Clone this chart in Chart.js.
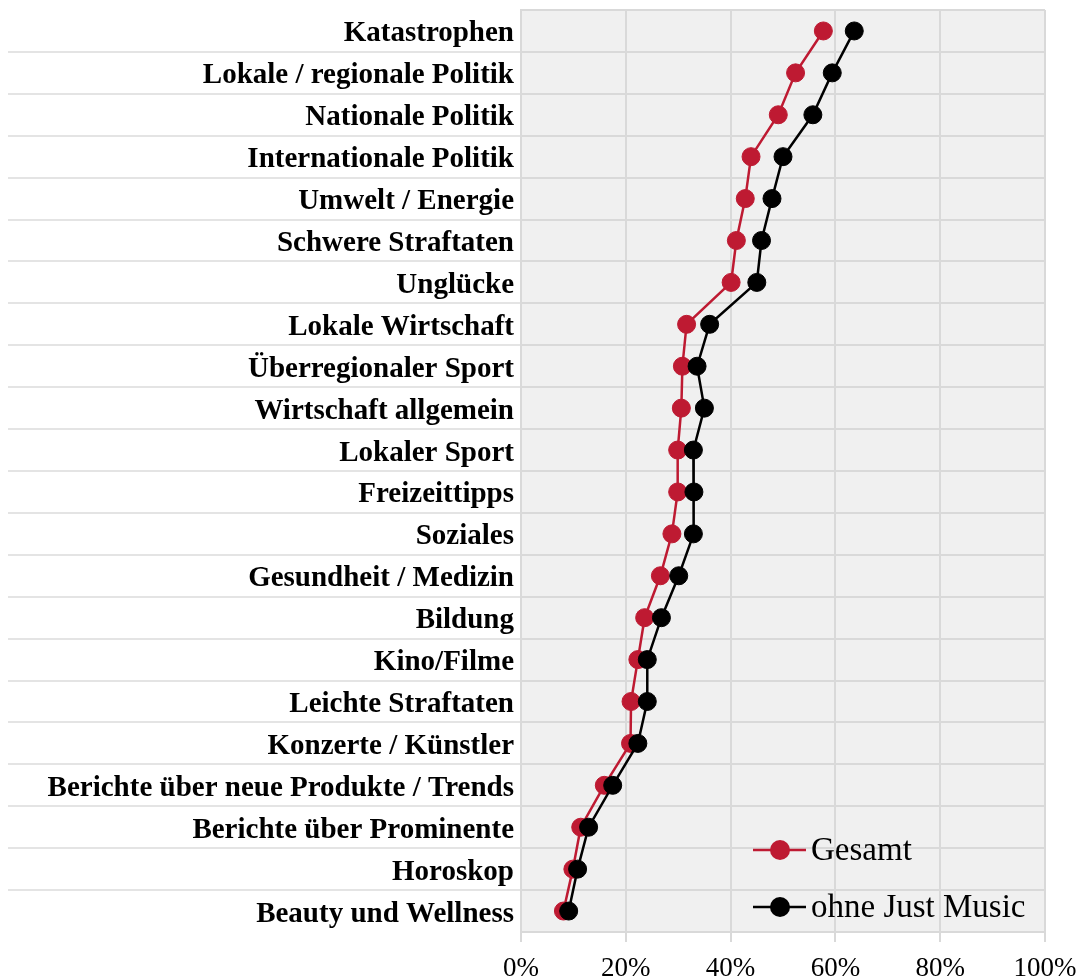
<!DOCTYPE html>
<html>
<head>
<meta charset="utf-8">
<script src="https://cdn.jsdelivr.net/npm/chart.js@4.4.1/dist/chart.umd.min.js"></script>
<style>
  html, body { margin: 0; padding: 0; background: #ffffff; }
  #wrap { width: 1078px; height: 980px; position: relative; }
</style>
</head>
<body>
<div id="wrap"><canvas id="grafico"></canvas></div>
<script>
// Themen (von oben nach unten)
const kategorien = [
    'Katastrophen', 'Lokale / regionale Politik', 'Nationale Politik', 'Internationale Politik',
    'Umwelt / Energie', 'Schwere Straftaten', 'Unglücke', 'Lokale Wirtschaft',
    'Überregionaler Sport', 'Wirtschaft allgemein', 'Lokaler Sport', 'Freizeittipps',
    'Soziales', 'Gesundheit / Medizin', 'Bildung', 'Kino/Filme', 'Leichte Straftaten',
    'Konzerte / Künstler', 'Berichte über neue Produkte / Trends', 'Berichte über Prominente',
    'Horoskop', 'Beauty und Wellness'
];

// Werte in Prozent
const gesamt = [57.7, 52.4, 49.1, 43.9, 42.8, 41.1, 40.1, 31.6, 30.8, 30.6, 29.9, 29.9,
    28.8, 26.6, 23.6, 22.3, 21.0, 20.9, 15.9, 11.4, 9.9, 8.1];
const ohneJustMusic = [63.6, 59.4, 55.7, 50.0, 47.9, 45.9, 45.0, 36.0, 33.6, 35.0, 32.9, 33.0,
    32.9, 30.1, 26.8, 24.1, 24.1, 22.3, 17.5, 12.9, 10.8, 9.1];

const serien = ['Gesamt', 'ohne Just Music'];
const farben = ['#be1a32', '#000000'];

const SCHRIFT = '"Liberation Serif", "DejaVu Serif", serif';

// grauer Hintergrund im Diagrammbereich
const hintergrundPlugin = {
    id: 'hintergrund',
    beforeDraw(chart) {
        const { ctx, chartArea: a } = chart;
        ctx.save();
        ctx.fillStyle = '#f0f0f0';
        ctx.fillRect(a.left, a.top, a.right - a.left, a.bottom - a.top);
        ctx.restore();
    }
};

// Legende unten rechts, innerhalb der Fläche
const legendePlugin = {
    id: 'legendeInnen',
    afterDraw(chart) {
        const { ctx, chartArea: a } = chart;
        const x0 = a.right - 292;
        const zeilen = [a.bottom - 82, a.bottom - 25];
        ctx.save();
        serien.forEach((name, i) => {
            const y = zeilen[i];
            ctx.strokeStyle = farben[i];
            ctx.lineWidth = 2.5;
            ctx.beginPath();
            ctx.moveTo(x0, y);
            ctx.lineTo(x0 + 53, y);
            ctx.stroke();
            ctx.fillStyle = farben[i];
            ctx.beginPath();
            ctx.arc(x0 + 27, y, 10, 0, Math.PI * 2);
            ctx.fill();
            ctx.fillStyle = '#000000';
            ctx.font = '33px ' + SCHRIFT;
            ctx.textBaseline = 'middle';
            ctx.textAlign = 'left';
            ctx.fillText(name, x0 + 58, y + 1);
        });
        ctx.restore();
    }
};

function datensatz(i, werte, ordnung) {
    return {
        label: serien[i],
        data: werte,
        borderColor: farben[i],
        backgroundColor: farben[i],
        pointBackgroundColor: farben[i],
        pointBorderColor: farben[i],
        borderWidth: 2.5,
        pointRadius: 9,
        pointBorderWidth: 1,
        tension: 0,
        order: ordnung
    };
}

const canvas = document.getElementById('grafico');
new Chart(canvas.getContext('2d'), {
    type: 'line',
    data: {
        labels: kategorien,
        datasets: [datensatz(0, gesamt, 2), datensatz(1, ohneJustMusic, 1)]
    },
    options: {
        indexAxis: 'y',
        responsive: true,
        maintainAspectRatio: false,
        animation: false,
        layout: { padding: { left: 8, right: 33, top: 7, bottom: 0 } },
        plugins: {
            legend: { display: false },
            tooltip: { enabled: false }
        },
        scales: {
            y: {
                type: 'category',
                offset: true,
                grid: {
                    offset: true,
                    color: '#d9d9d9',
                    lineWidth: 2,
                    tickLength: 513,
                    tickWidth: 2,
                    // nur Trennlinien zwischen den Themen, nicht oben/unten
                    tickColor: (c) => (c.type !== 'tick' || c.index === 0) ? 'rgba(0,0,0,0)' : '#e4e4e4'
                },
                border: { display: true, color: '#d9d9d9', width: 2 },
                ticks: {
                    autoSkip: false,
                    padding: -506,
                    labelOffset: 3,
                    color: '#000000',
                    font: { family: SCHRIFT, size: 29, weight: 'bold' }
                },
                afterFit: (scale) => {
                    scale.width = 513;
                    scale.paddingTop = 0;
                    scale.paddingBottom = 0;
                }
            },
            x: {
                type: 'linear',
                min: 0,
                max: 100,
                grid: {
                    color: '#d9d9d9',
                    lineWidth: 2,
                    tickLength: 10,
                    tickWidth: 2,
                    tickColor: '#d9d9d9'
                },
                border: { display: true, color: '#d9d9d9', width: 2 },
                ticks: {
                    stepSize: 20,
                    padding: 11,
                    color: '#000000',
                    font: { family: SCHRIFT, size: 27 },
                    callback: (v) => v + '%'
                },
                afterFit: (scale) => {
                    scale.height = 48;
                    scale.paddingLeft = 0;
                    scale.paddingRight = 0;
                }
            }
        }
    },
    plugins: [hintergrundPlugin, legendePlugin]
});
</script>
</body>
</html>
